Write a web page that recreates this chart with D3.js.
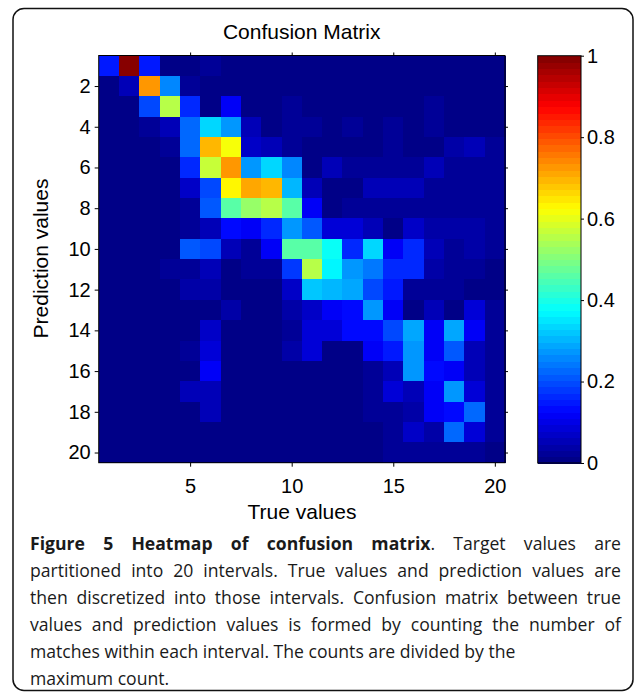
<!DOCTYPE html>
<html>
<head>
<meta charset="utf-8">
<script src="https://cdn.jsdelivr.net/npm/d3@7"></script>
<style>
  html, body { margin: 0; padding: 0; background: #fff; }
  svg { display: block; }
</style>
</head>
<body>
<svg id="chart" width="635" height="693"></svg>
<script>
// interval numbers on both axes
const trueIntervals = d3.range(1, 21);
const predIntervals = d3.range(1, 21);
const xTicks = [5, 10, 15, 20];
const yTicks = [2, 4, 6, 8, 10, 12, 14, 16, 18, 20];
const cbTicks = [0, 0.2, 0.4, 0.6, 0.8, 1];

// normalised counts, one array per prediction interval (columns = true interval 1..20)
const pred01 = [0.15, 1.00, 0.15, 0.00, 0.00, 0.02, 0.00, 0.00, 0.00, 0.00, 0.00, 0.00, 0.00, 0.00, 0.00, 0.00, 0.00, 0.00, 0.00, 0.00];
const pred02 = [0.00, 0.06, 0.73, 0.25, 0.02, 0.00, 0.00, 0.00, 0.00, 0.00, 0.00, 0.00, 0.00, 0.00, 0.00, 0.00, 0.00, 0.00, 0.00, 0.00];
const pred03 = [0.00, 0.00, 0.19, 0.56, 0.16, 0.01, 0.12, 0.00, 0.01, 0.02, 0.01, 0.01, 0.01, 0.01, 0.01, 0.01, 0.02, 0.00, 0.00, 0.00];
const pred04 = [0.00, 0.00, 0.02, 0.06, 0.22, 0.34, 0.27, 0.06, 0.01, 0.02, 0.02, 0.01, 0.02, 0.01, 0.02, 0.01, 0.02, 0.01, 0.01, 0.01];
const pred05 = [0.00, 0.00, 0.00, 0.02, 0.22, 0.69, 0.61, 0.07, 0.06, 0.03, 0.01, 0.01, 0.01, 0.01, 0.02, 0.01, 0.01, 0.04, 0.06, 0.02];
const pred06 = [0.00, 0.00, 0.00, 0.00, 0.16, 0.57, 0.73, 0.27, 0.34, 0.26, 0.01, 0.05, 0.03, 0.03, 0.03, 0.03, 0.06, 0.02, 0.02, 0.02];
const pred07 = [0.00, 0.00, 0.00, 0.00, 0.07, 0.20, 0.64, 0.71, 0.69, 0.31, 0.05, 0.01, 0.01, 0.06, 0.05, 0.05, 0.03, 0.03, 0.03, 0.02];
const pred08 = [0.00, 0.00, 0.00, 0.00, 0.02, 0.21, 0.46, 0.53, 0.56, 0.46, 0.12, 0.01, 0.03, 0.03, 0.03, 0.03, 0.03, 0.03, 0.03, 0.02];
const pred09 = [0.00, 0.00, 0.00, 0.00, 0.02, 0.05, 0.14, 0.12, 0.17, 0.27, 0.21, 0.08, 0.08, 0.06, 0.01, 0.07, 0.04, 0.04, 0.04, 0.02];
const pred10 = [0.00, 0.00, 0.00, 0.00, 0.21, 0.20, 0.06, 0.03, 0.12, 0.46, 0.46, 0.38, 0.17, 0.33, 0.11, 0.17, 0.06, 0.02, 0.04, 0.02];
const pred11 = [0.00, 0.00, 0.00, 0.03, 0.03, 0.06, 0.01, 0.03, 0.03, 0.18, 0.55, 0.37, 0.27, 0.24, 0.17, 0.17, 0.04, 0.02, 0.03, 0.01];
const pred12 = [0.00, 0.00, 0.00, 0.00, 0.04, 0.04, 0.01, 0.01, 0.01, 0.07, 0.32, 0.31, 0.29, 0.19, 0.15, 0.02, 0.02, 0.02, 0.01, 0.01];
const pred13 = [0.00, 0.00, 0.00, 0.00, 0.00, 0.01, 0.04, 0.01, 0.01, 0.04, 0.07, 0.12, 0.14, 0.27, 0.12, 0.01, 0.05, 0.01, 0.08, 0.02];
const pred14 = [0.00, 0.00, 0.00, 0.00, 0.00, 0.07, 0.01, 0.01, 0.01, 0.02, 0.08, 0.08, 0.14, 0.14, 0.19, 0.29, 0.12, 0.29, 0.11, 0.02];
const pred15 = [0.00, 0.00, 0.00, 0.00, 0.03, 0.08, 0.01, 0.01, 0.01, 0.04, 0.08, 0.01, 0.01, 0.12, 0.15, 0.28, 0.12, 0.21, 0.06, 0.02];
const pred16 = [0.00, 0.00, 0.00, 0.00, 0.00, 0.12, 0.00, 0.00, 0.00, 0.01, 0.01, 0.01, 0.01, 0.03, 0.06, 0.28, 0.14, 0.12, 0.05, 0.02];
const pred17 = [0.00, 0.00, 0.00, 0.00, 0.06, 0.06, 0.00, 0.00, 0.00, 0.00, 0.00, 0.00, 0.00, 0.03, 0.08, 0.06, 0.12, 0.28, 0.08, 0.02];
const pred18 = [0.00, 0.00, 0.00, 0.00, 0.00, 0.06, 0.00, 0.00, 0.00, 0.00, 0.00, 0.00, 0.00, 0.02, 0.02, 0.04, 0.12, 0.13, 0.23, 0.02];
const pred19 = [0.00, 0.00, 0.00, 0.00, 0.00, 0.00, 0.00, 0.00, 0.00, 0.00, 0.00, 0.00, 0.00, 0.00, 0.03, 0.07, 0.04, 0.23, 0.08, 0.02];
const pred20 = [0.00, 0.00, 0.00, 0.00, 0.00, 0.00, 0.00, 0.00, 0.00, 0.00, 0.01, 0.01, 0.01, 0.01, 0.02, 0.02, 0.02, 0.02, 0.02, 0.01];
const rows = [pred01, pred02, pred03, pred04, pred05, pred06, pred07, pred08, pred09, pred10,
              pred11, pred12, pred13, pred14, pred15, pred16, pred17, pred18, pred19, pred20];

const captionBold = 'Figure 5 Heatmap of confusion matrix';
const captionLines = [
  '. Target values are',
  'partitioned into 20 intervals. True values and prediction values are',
  'then discretized into those intervals. Confusion matrix between true',
  'values and prediction values is formed by counting the number of',
  'matches within each interval. The counts are divided by the',
  'maximum count.'
];

// matlab jet, 64 levels
const clamp01 = v => Math.max(0, Math.min(1, v));
const jet = t => {
  const r = clamp01(1.5 - Math.abs(4 * t - 3));
  const g = clamp01(1.5 - Math.abs(4 * t - 2));
  const b = clamp01(1.5 - Math.abs(4 * t - 1));
  return d3.rgb(r * 255, g * 255, b * 255).formatHex();
};
const jetColors = d3.range(64).map(i => jet((i + 0.5) / 64));
const color = d3.scaleQuantize().domain([0, 1]).range(jetColors);

const svg = d3.select('#chart');
const plotFont = '"Liberation Sans", Arial, Helvetica, sans-serif';

// outer frame
svg.append('rect')
  .attr('x', 13).attr('y', 8.5)
  .attr('width', 620).attr('height', 682)
  .attr('rx', 11)
  .attr('fill', 'none')
  .attr('stroke', '#111')
  .attr('stroke-width', 1.5);

const pLeft = 98.7, pRight = 505, pTop = 55.5, pBottom = 462.7;
const x = d3.scaleLinear().domain([0.5, 20.5]).range([pLeft, pRight]);
const y = d3.scaleLinear().domain([0.5, 20.5]).range([pTop, pBottom]);

const cells = [];
rows.forEach((r, i) => r.forEach((v, j) => cells.push({ pred: predIntervals[i], tru: trueIntervals[j], v })));

svg.append('g')
  .attr('shape-rendering', 'crispEdges')
  .selectAll('rect')
  .data(cells)
  .join('rect')
  .attr('x', d => x(d.tru - 0.5))
  .attr('y', d => y(d.pred - 0.5))
  .attr('width', x(1.5) - x(0.5) + 0.6)
  .attr('height', y(1.5) - y(0.5) + 0.6)
  .attr('fill', d => color(d.v));

// axes, ticks pointing outward like the original
const styleAxis = g => {
  g.select('.domain').remove();
  g.selectAll('line').attr('stroke', '#000');
  g.selectAll('text').attr('font-family', plotFont).attr('font-size', 20).attr('fill', '#000');
};
svg.append('g').attr('transform', `translate(0,${pBottom})`)
  .call(d3.axisBottom(x).tickValues(xTicks).tickSize(4).tickPadding(12))
  .call(styleAxis);
svg.append('g').attr('transform', `translate(0,${pTop})`)
  .call(d3.axisTop(x).tickValues(xTicks).tickSize(3).tickFormat(''))
  .call(styleAxis);
svg.append('g').attr('transform', `translate(${pLeft},0)`)
  .call(d3.axisLeft(y).tickValues(yTicks).tickSize(4).tickPadding(4))
  .call(styleAxis);
svg.append('g').attr('transform', `translate(${pRight},0)`)
  .call(d3.axisRight(y).tickValues(yTicks).tickSize(3).tickFormat(''))
  .call(styleAxis);

svg.append('rect')
  .attr('x', pLeft).attr('y', pTop)
  .attr('width', pRight - pLeft).attr('height', pBottom - pTop)
  .attr('fill', 'none').attr('stroke', '#000').attr('stroke-width', 1);

// colorbar
const cbLeft = 537.7, cbRight = 581, cbTop = 55.7, cbBottom = 463;
const cbY = d3.scaleLinear().domain([0, 1]).range([cbBottom, cbTop]);
svg.append('g')
  .attr('shape-rendering', 'crispEdges')
  .selectAll('rect')
  .data(jetColors)
  .join('rect')
  .attr('x', cbLeft)
  .attr('y', (c, i) => cbY((i + 1) / 64))
  .attr('width', cbRight - cbLeft)
  .attr('height', cbY(0) - cbY(1 / 64) + 0.6)
  .attr('fill', c => c);
svg.append('rect')
  .attr('x', cbLeft).attr('y', cbTop)
  .attr('width', cbRight - cbLeft).attr('height', cbBottom - cbTop)
  .attr('fill', 'none').attr('stroke', '#000').attr('stroke-width', 1);
svg.append('g').attr('transform', `translate(${cbRight},0)`)
  .call(d3.axisRight(cbY).tickValues(cbTicks).tickSize(3).tickPadding(3).tickFormat(d3.format('')))
  .call(styleAxis);

// titles
svg.append('text')
  .attr('x', 301.7).attr('y', 39.3)
  .attr('text-anchor', 'middle')
  .attr('font-family', plotFont).attr('font-size', 21)
  .text('Confusion Matrix');
svg.append('text')
  .attr('x', 302).attr('y', 519)
  .attr('text-anchor', 'middle')
  .attr('font-family', plotFont).attr('font-size', 21)
  .text('True values');
svg.append('text')
  .attr('transform', 'translate(47.5,258.5) rotate(-90)')
  .attr('text-anchor', 'middle')
  .attr('font-family', plotFont).attr('font-size', 21)
  .text('Prediction values');

// caption, first four lines justified word by word
const capFont = '"Open Sans", "Noto Sans", sans-serif';
const capLeft = 30, capRight = 621, capSize = 17.6;
const lineY = [549.5, 576.5, 603.5, 630.5, 657.5, 684.5];

const cap = svg.append('g')
  .attr('font-family', capFont)
  .attr('font-size', capSize)
  .attr('fill', '#1a1a1a');

const restFirst = captionLines[0].trim().split(' ');
// ". Target" — the dot sticks to "matrix"
const line1 = captionBold.split(' ').map(w => ({ w, bold: true }))
  .concat([{ w: restFirst[0], bold: false, glue: true }],
    restFirst.slice(1).map(w => ({ w, bold: false })));

const words = [line1].concat(captionLines.slice(1).map(s => s.split(' ').map(w => ({ w, bold: false }))));

words.forEach((ws, li) => {
  const justify = li < 4;
  const nodes = ws.map(o => {
    const t = cap.append('text')
      .attr('y', lineY[li])
      .attr('font-weight', o.bold ? 700 : 400)
      .text(o.w);
    return { t, len: t.node().getComputedTextLength(), glue: o.glue };
  });
  const space = capSize * 0.26;
  const gaps = nodes.filter((n, i) => i > 0 && !n.glue).length;
  const total = d3.sum(nodes, n => n.len);
  const gap = justify && gaps ? (capRight - capLeft - total) / gaps : space;
  let cx = capLeft;
  nodes.forEach((n, i) => {
    if (i > 0 && !n.glue) cx += gap;
    n.t.attr('x', cx);
    cx += n.len;
  });
});
</script>
</body>
</html>
